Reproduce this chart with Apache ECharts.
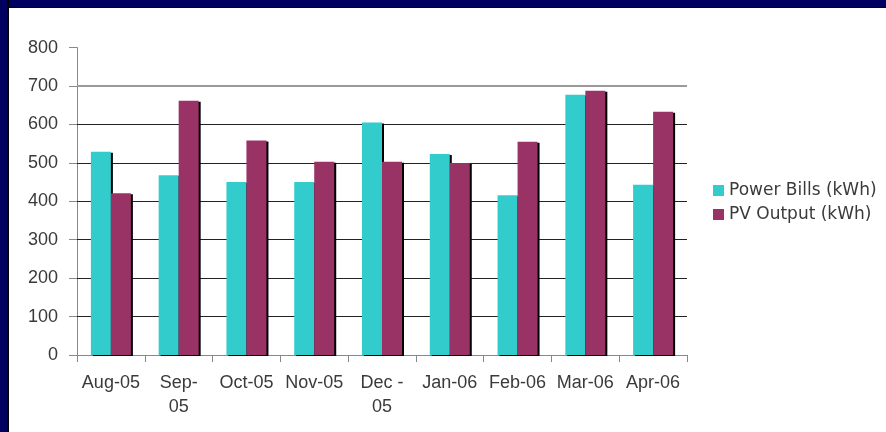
<!DOCTYPE html>
<html>
<head>
<meta charset="utf-8">
<script src="https://cdn.jsdelivr.net/npm/echarts@6/dist/echarts.min.js"></script>
<style>
html,body{margin:0;padding:0;background:#fff;overflow:hidden;width:886px;height:432px;}
#wrap{position:relative;width:886px;height:432px;overflow:hidden;background:#fff;}
#chart{position:absolute;left:0;top:0;width:886px;height:432px;}
#frameTop{position:absolute;left:0;top:0;width:886px;height:7px;background:#000060;border-bottom:1px solid #000;}
#frameLeft{position:absolute;left:0;top:0;width:7px;height:432px;background:#000060;border-right:2px solid #000;}
</style>
</head>
<body>
<div id="wrap">
<div id="chart"></div>
<div id="frameTop"></div><div id="frameLeft"></div>
</div>
<script>
const categories = ["Aug-05", "Sep-\n05", "Oct-05", "Nov-05", "Dec -\n05", "Jan-06", "Feb-06", "Mar-06", "Apr-06"];
const powerBills = [529, 468, 450, 450, 605, 523, 416, 677, 443];
const pvOutput = [421, 662, 558, 503, 503, 500, 555, 688, 633];
const yTicks = [0, 100, 200, 300, 400, 500, 600, 700, 800];
const gridBlack = [100, 200, 300, 400, 500, 600];
const gridGray = [700];

const chart = echarts.init(document.getElementById('chart'), null, {renderer: 'canvas', width: 886, height: 432});
const font = 'Liberation Sans, Arial, sans-serif';
const txt = '#3a3a3a';
const shadow = {shadowColor: '#000', shadowOffsetX: 2, shadowOffsetY: 1, shadowBlur: 0};

chart.setOption({
  animation: false,
  backgroundColor: '#fff',
  grid: {left: 77, right: 199, top: 47.6, bottom: 77, containLabel: false},
  legend: {
    orient: 'vertical', left: 708, top: 177,
    itemWidth: 11, itemHeight: 11, itemGap: 7,
    icon: 'rect',
    textStyle: {fontFamily: 'DejaVu Sans, sans-serif', fontSize: 17, lineHeight: 17, color: txt},
    data: ['Power Bills (kWh)', 'PV Output (kWh)']
  },
  xAxis: {
    type: 'category',
    data: categories,
    axisLine: {lineStyle: {color: '#888', width: 1}},
    axisTick: {show: true, length: 7, lineStyle: {color: '#888'}},
    axisLabel: {fontFamily: font, fontSize: 18, lineHeight: 24, color: txt, margin: 16, interval: 0},
    splitLine: {show: false}
  },
  yAxis: {
    type: 'value',
    min: yTicks[0], max: yTicks[yTicks.length - 1], interval: 100,
    axisLine: {show: true, lineStyle: {color: '#888', width: 1}},
    axisTick: {show: true, length: 8, lineStyle: {color: '#888'}},
    axisLabel: {fontFamily: font, fontSize: 18, color: txt, margin: 19},
    splitLine: {show: false}
  },
  series: [
    {
      name: 'Power Bills (kWh)', type: 'bar', data: powerBills,
      barWidth: 20, barGap: '0%', z: 3,
      itemStyle: Object.assign({color: '#33cccc'}, shadow),
      markLine: {
        silent: true, symbol: 'none', z: 1,
        label: {show: false},
        data: gridBlack.map(v => ({yAxis: v, lineStyle: {color: '#222', width: 1, type: 'solid'}}))
          .concat(gridGray.map(v => ({yAxis: v, lineStyle: {color: '#9a9a9a', width: 2, type: 'solid'}})))
      }
    },
    {
      name: 'PV Output (kWh)', type: 'bar', data: pvOutput,
      barWidth: 20, barGap: '0%', z: 3,
      itemStyle: Object.assign({color: '#993366'}, shadow)
    }
  ]
});
</script>
</body>
</html>
